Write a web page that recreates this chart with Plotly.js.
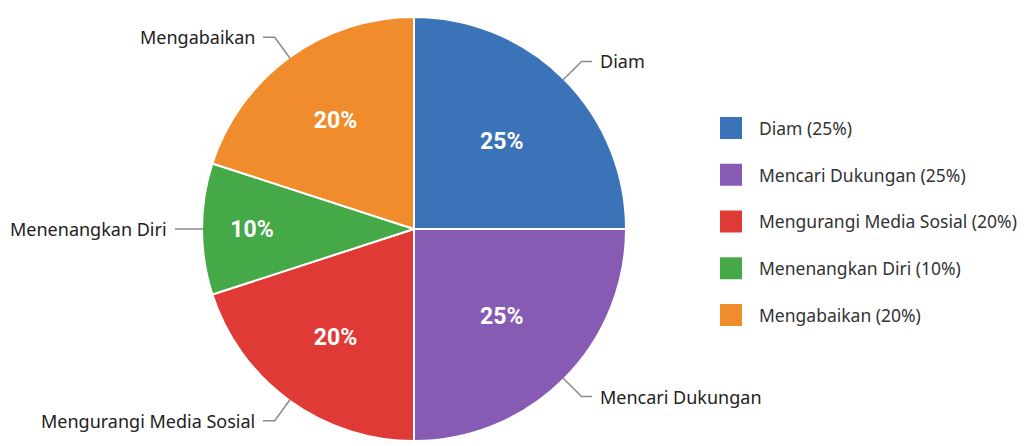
<!DOCTYPE html>
<html>
<head>
<meta charset="utf-8">
<script src="https://cdn.plot.ly/plotly-3.0.1.min.js"></script>
<style>html,body{margin:0;padding:0;background:#fff;}#chart{width:1028px;height:446px;}</style>
</head>
<body>
<div id="chart"></div>
<script>
const labels = ["Diam", "Mencari Dukungan", "Mengurangi Media Sosial", "Menenangkan Diri", "Mengabaikan"];
const values = [25, 25, 20, 10, 20];
const colors = ["#3B73B9", "#875BB3", "#E03A36", "#45A948", "#F08C2B"];

const W = 1028, H = 446;
const cx = 414, cy = 229, R = 212;
const FONT = "Noto Sans, Roboto, sans-serif";

const pie = {
  type: "pie",
  labels: labels,
  values: values,
  sort: false,
  direction: "clockwise",
  rotation: 0,
  marker: {colors: colors, line: {color: "#ffffff", width: 2}},
  texttemplate: "%{value}%",
  textinfo: "text",
  textposition: "inside",
  insidetextorientation: "horizontal",
  insidetextfont: {color: "#ffffff", size: 23, family: "Roboto, sans-serif", weight: "bold"},
  hoverinfo: "label+percent",
  showlegend: false,
  domain: {x: [(cx - R) / W, (cx + R) / W], y: [1 - (cy + R) / H, 1 - (cy - R) / H]}
};

// Legend entries (one per slice) so spacing between groups can be set
const legendTraces = labels.map((lab, i) => ({
  type: "scatter",
  x: [null], y: [null],
  mode: "markers",
  name: lab + " (" + values[i] + "%)",
  legendgroup: "g" + i,
  marker: {symbol: "square", color: colors[i], size: 16},
  hoverinfo: "skip",
  showlegend: true
}));

// leader lines + outside labels derived from slice mid-angles
const total = values.reduce((a, b) => a + b, 0);
const shapes = [], annotations = [];
let cum = 0;
const px = x => x / W, py = y => 1 - y / H;
values.forEach((v, i) => {
  const mid = (cum + v / 2) / total * 2 * Math.PI;
  cum += v;
  const s = Math.sin(mid), c = Math.cos(mid);
  const side = s >= 0 ? 1 : -1;
  const ext = 25, h = 2 + 12 * Math.abs(c);
  const x1 = cx + (R - 1) * s, y1 = cy - (R - 1) * c;
  const x2 = cx + (R + ext) * s, y2 = cy - (R + ext) * c;
  const x3 = x2 + side * h, y3 = y2;
  shapes.push({
    type: "path", xref: "paper", yref: "paper",
    path: `M${px(x1)},${py(y1)} L${px(x2)},${py(y2)} L${px(x3)},${py(y3)}`,
    line: {color: "#8a8a8a", width: 1.5}
  });
  annotations.push({
    xref: "paper", yref: "paper",
    x: px(x3 + side * 6), y: py(y3),
    xanchor: side > 0 ? "left" : "right", yanchor: "middle",
    text: labels[i], showarrow: false,
    font: {family: FONT, size: 18, color: "#222222"}
  });
});

const layout = {
  width: W, height: H,
  margin: {l: 0, r: 0, t: 0, b: 0, autoexpand: false},
  paper_bgcolor: "#ffffff",
  plot_bgcolor: "#ffffff",
  xaxis: {visible: false, domain: [0.99, 1]},
  yaxis: {visible: false, domain: [0.99, 1]},
  showlegend: true,
  legend: {
    x: 703 / W, y: 0.753, xanchor: "left", yanchor: "top",
    traceorder: "grouped", tracegroupgap: 21, itemwidth: 46,
    font: {family: FONT, size: 17.5, color: "#333333"},
    bgcolor: "rgba(0,0,0,0)", itemclick: false, itemdoubleclick: false
  },
  shapes: shapes,
  annotations: annotations,
  font: {family: FONT}
};

Plotly.newPlot("chart", [pie].concat(legendTraces), layout, {displayModeBar: false, staticPlot: true}).then(gd => {
  // enlarge legend swatches to match the reference
  gd.querySelectorAll(".legend .legendpoints path.scatterpts").forEach(p => {
    p.setAttribute("d", "M11,11H-11V-11H11Z");
    p.style.strokeWidth = "0px";
  });
});
</script>
</body>
</html>
